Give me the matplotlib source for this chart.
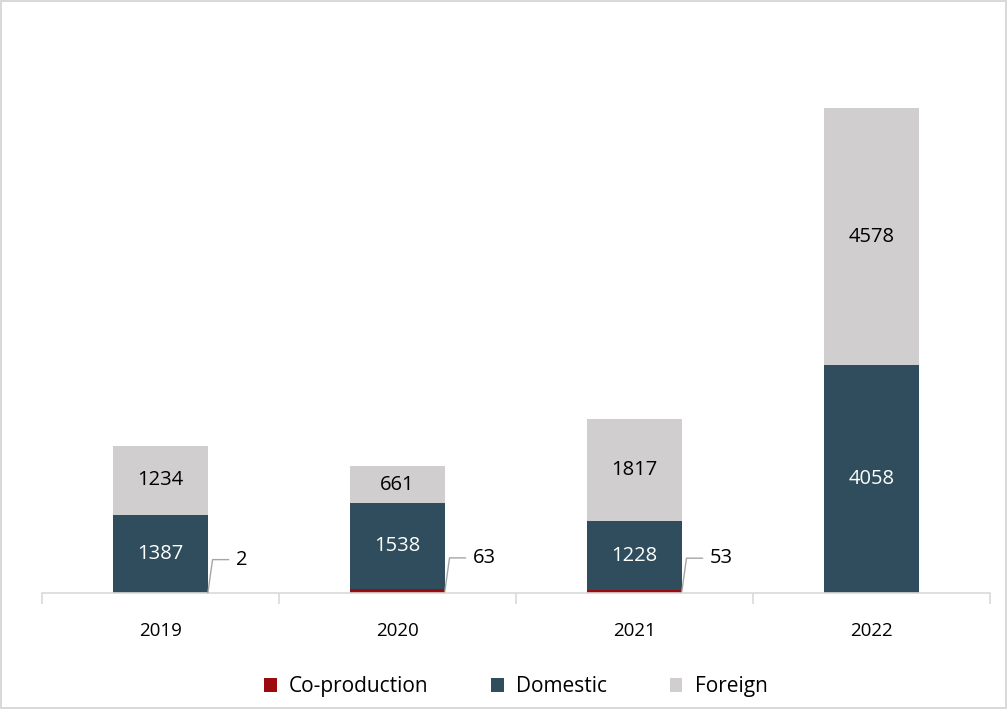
import numpy as np
import matplotlib.pyplot as plt

plt.rcParams["font.family"] = ["Open Sans", "DejaVu Sans"]

years = ["2019", "2020", "2021", "2022"]
coproduction = [2, 63, 53, 0]
domestic = [1387, 1538, 1228, 4058]
foreign = [1234, 661, 1817, 4578]

COLORS = {"Co-production": "#9B0A0E", "Domestic": "#2F4D5C", "Foreign": "#D0CECF"}

fig = plt.figure(figsize=(10.07, 7.09), dpi=100)
fig.patch.set_edgecolor("#D9D9D9")
fig.patch.set_linewidth(1.5)
ax = fig.add_axes([0.0417, 0.1636, 0.9413, 0.792])

x = np.arange(len(years))
width = 0.4
co = np.array(coproduction)
dom = np.array(domestic)
fo = np.array(foreign)

ax.bar(x, co, width, color=COLORS["Co-production"], label="Co-production")
ax.bar(x, dom, width, bottom=co, color=COLORS["Domestic"], label="Domestic")
ax.bar(x, fo, width, bottom=co + dom, color=COLORS["Foreign"], label="Foreign")

# labels inside the bars
for i in range(len(years)):
    ax.text(x[i], co[i] + dom[i] / 2, str(dom[i]), ha="center", va="center",
            color="white", fontsize=14.5)
    ax.text(x[i], co[i] + dom[i] + fo[i] / 2, str(fo[i]), ha="center",
            va="center", color="black", fontsize=14.5)
    # small co-production values get a leader line
    if co[i] > 0:
        ax.annotate(str(co[i]), xy=(x[i] + width / 2, co[i] / 2),
                    xytext=(20, 24), textcoords="offset points",
                    ha="left", va="center", fontsize=14.5,
                    arrowprops=dict(arrowstyle="-", color="#A6A6A6", lw=1,
                                    shrinkA=3, shrinkB=0,
                                    connectionstyle="angle,angleA=0,angleB=82,rad=0"))

ax.set_xlim(-0.5, len(years) - 0.5)
ax.set_ylim(0, 10000)
ax.set_xticks(x)
ax.set_xticklabels(years, fontsize=13.5)
ax.set_xticks(np.arange(len(years) + 1) - 0.5, minor=True)
ax.tick_params(axis="x", which="major", length=0, pad=21)
ax.tick_params(axis="x", which="minor", length=8, color="#D9D9D9", width=1.2)
ax.set_yticks([])
for side in ["top", "right", "left"]:
    ax.spines[side].set_visible(False)
ax.spines["bottom"].set_color("#D9D9D9")
ax.spines["bottom"].set_linewidth(1.2)

ax.legend(loc="upper center", bbox_to_anchor=(0.5, -0.115), ncol=3,
          frameon=False, fontsize=15, handlelength=0.6, handleheight=0.6,
          columnspacing=3.0, handletextpad=0.6)

fig.savefig("out.png", dpi=100)
